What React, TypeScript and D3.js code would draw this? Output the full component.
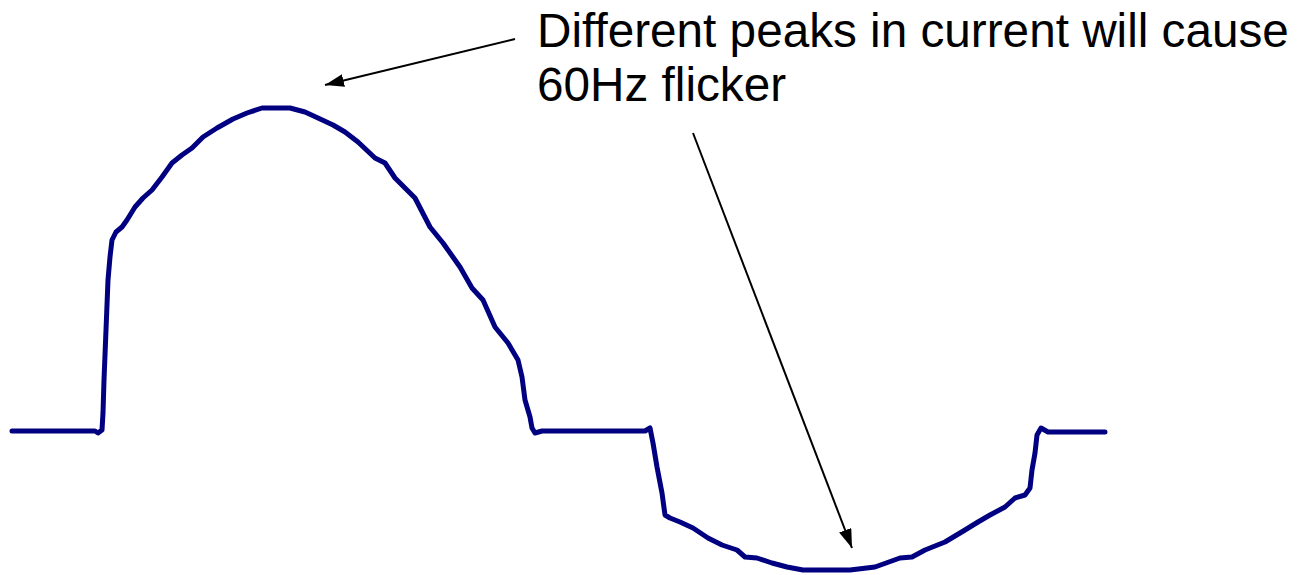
import React, { useEffect, useRef } from "react";
import * as d3 from "d3";

// Waveform samples: time (arbitrary units) and current (arbitrary units)
const timeValues: number[] = [
  0, 83, 86, 90, 91, 92, 94, 96, 98, 100, 104, 110, 115, 123, 131, 140, 150, 160, 170, 180,
  191, 205, 221, 235, 250, 278, 293, 306, 321, 333, 346, 363, 373, 383, 395, 403, 418, 431,
  448, 460, 471, 483, 496, 506, 510, 513, 518, 520, 523, 530, 633, 638, 641, 645, 650, 653,
  658, 668, 681, 696, 710, 725, 733, 745, 760, 775, 791, 838, 863, 888, 900, 913, 933, 953,
  966, 978, 993, 1003, 1013, 1018, 1020, 1023, 1025, 1029, 1036, 1093,
];
const currentValues: number[] = [
  0, 0, -2, 1, 18, 51, 101, 151, 174, 191, 199, 204, 211, 224, 233, 241, 254, 268, 276, 283,
  294, 303, 312, 318, 323, 323, 319, 313, 306, 299, 289, 273, 268, 253, 241, 233, 204, 188,
  164, 143, 131, 104, 88, 71, 54, 31, 14, 3, -2, 0, 0, 3, -12, -36, -62, -84,
  -87, -91, -97, -107, -114, -119, -126, -127, -132, -136, -139, -139, -136, -127, -126, -119, -111, -99,
  -91, -84, -76, -67, -64, -57, -39, -22, -4, 3, -1, -1,
];

// Annotation
const labelLines: string[] = ["Different peaks in current will cause", "60Hz flicker"];
const labelAnchor = { t: 525, c: 384 };
const arrowStarts: [number, number][] = [
  [503, 392],
  [681, 298],
];
const arrowTips: [number, number][] = [
  [313, 346],
  [840, -117],
];

export default function App() {
  const ref = useRef<SVGSVGElement | null>(null);
  const W = 1299;
  const H = 575;

  useEffect(() => {
    const svg = d3.select(ref.current);
    svg.selectAll("*").remove();

    const x = d3.scaleLinear().domain([0, 1093]).range([12, 1105]);
    const y = d3.scaleLinear().domain([0, 323]).range([431, 108]);

    const defs = svg.append("defs");
    defs
      .append("marker")
      .attr("id", "arrowHead")
      .attr("markerUnits", "userSpaceOnUse")
      .attr("viewBox", "0 0 19 13")
      .attr("markerWidth", 19)
      .attr("markerHeight", 13)
      .attr("refX", 19)
      .attr("refY", 6.5)
      .attr("orient", "auto")
      .append("path")
      .attr("d", "M0,0 L19,6.5 L0,13 Z")
      .attr("fill", "#000");

    const data = timeValues.map((t, i) => [t, currentValues[i]] as [number, number]);
    const line = d3
      .line<[number, number]>()
      .x((d) => x(d[0]))
      .y((d) => y(d[1]))
      .curve(d3.curveLinear);

    svg
      .append("path")
      .attr("d", line(data) || "")
      .attr("fill", "none")
      .attr("stroke", "#000080")
      .attr("stroke-width", 5)
      .attr("stroke-linejoin", "round")
      .attr("stroke-linecap", "round");

    arrowStarts.forEach((s, i) => {
      const e = arrowTips[i];
      svg
        .append("line")
        .attr("x1", x(s[0]))
        .attr("y1", y(s[1]))
        .attr("x2", x(e[0]))
        .attr("y2", y(e[1]))
        .attr("stroke", "#000")
        .attr("stroke-width", 2)
        .attr("marker-end", "url(#arrowHead)");
    });

    const text = svg
      .append("text")
      .attr("x", x(labelAnchor.t))
      .attr("y", y(labelAnchor.c))
      .attr("font-family", "'Liberation Sans', Arial, sans-serif")
      .attr("font-size", 47.7)
      .attr("fill", "#000");
    labelLines.forEach((l, i) => {
      text
        .append("tspan")
        .attr("x", x(labelAnchor.t))
        .attr("dy", i === 0 ? 0 : 54)
        .text(l);
    });
  }, []);

  return (
    <svg
      ref={ref}
      width={W}
      height={H}
      style={{ position: "absolute", left: 0, top: 0, display: "block", background: "#fff" }}
    />
  );
}
